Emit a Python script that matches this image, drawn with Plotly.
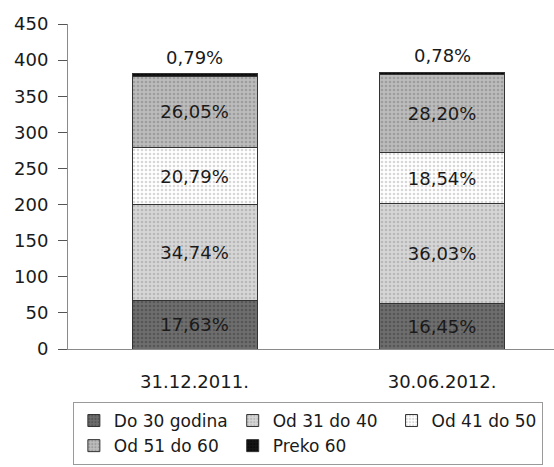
import plotly.graph_objects as go

# Employees by age group, share of total headcount
dates = ["31.12.2011.", "30.06.2012."]
totals = [381, 383]
groups = ["Do 30 godina", "Od 31 do 40", "Od 41 do 50", "Od 51 do 60", "Preko 60"]
do_30 = [17.63, 16.45]
od_31_40 = [34.74, 36.03]
od_41_50 = [20.79, 18.54]
od_51_60 = [26.05, 28.20]
preko_60 = [0.79, 0.78]
y_ticks = [0, 50, 100, 150, 200, 250, 300, 350, 400, 450]

shares = [do_30, od_31_40, od_41_50, od_51_60, preko_60]
styles = [
    dict(bg="#6e6e6e", fg="#3e3e3e"),
    dict(bg="#d6d6d6", fg="#9a9a9a"),
    dict(bg="#ffffff", fg="#b0b0b0"),
    dict(bg="#bcbcbc", fg="#7e7e7e"),
    dict(bg="#151515", fg="#000000"),
]
FONT = "DejaVu Sans"


def pct_label(p):
    return f"{p:.2f}".replace(".", ",") + "%"


fig = go.Figure()
for name, vals, st in zip(groups, shares, styles):
    counts = [p / 100 * t for p, t in zip(vals, totals)]
    is_top = name == groups[-1]
    fig.add_trace(go.Bar(
        name=name,
        x=dates,
        y=counts,
        width=0.505,
        text=None if is_top else [pct_label(p) for p in vals],
        textposition="inside",
        insidetextanchor="middle",
        textangle=0,
        textfont=dict(family=FONT, size=18, color="#1a1a1a"),
        marker=dict(
            color=st["bg"],
            line=dict(color="#333333", width=1),
            pattern=dict(shape=".", fgcolor=st["fg"], bgcolor=st["bg"],
                         size=4, solidity=0.35),
        ),
        hoverinfo="skip",
    ))

# Smallest group: label sits above the stack
for d, p, t in zip(dates, preko_60, totals):
    fig.add_annotation(x=d, y=t, text=pct_label(p), showarrow=False,
                       yanchor="bottom", yshift=4,
                       font=dict(family=FONT, size=18, color="#1a1a1a"))

fig.update_layout(
    barmode="stack",
    width=554, height=467,
    margin=dict(l=68, r=0, t=24, b=118),
    paper_bgcolor="#ffffff",
    plot_bgcolor="#ffffff",
    font=dict(family=FONT, size=18, color="#222222"),
    showlegend=True,
    legend=dict(
        orientation="h",
        x=0.01, xanchor="left",
        y=-0.163, yanchor="top",
        bordercolor="#9a9a9a", borderwidth=1,
        font=dict(family=FONT, size=17, color="#1a1a1a"),
        traceorder="normal",
        itemwidth=30,
        tracegroupgap=0,
    ),
    xaxis=dict(
        type="category",
        range=[-0.511, 1.452],
        showline=True, linecolor="#8a8a8a", linewidth=1,
        ticks="", showgrid=False, zeroline=False,
        ticklabelstandoff=16,
        tickfont=dict(family=FONT, size=18, color="#1a1a1a"),
    ),
    yaxis=dict(
        range=[0, 450],
        tickvals=y_ticks,
        showline=True, linecolor="#8a8a8a", linewidth=1,
        ticks="outside", ticklen=9, tickcolor="#555555",
        showgrid=False, zeroline=False,
        ticklabelstandoff=6,
        tickfont=dict(family=FONT, size=18, color="#1a1a1a"),
    ),
)

fig.write_html("out.html")
